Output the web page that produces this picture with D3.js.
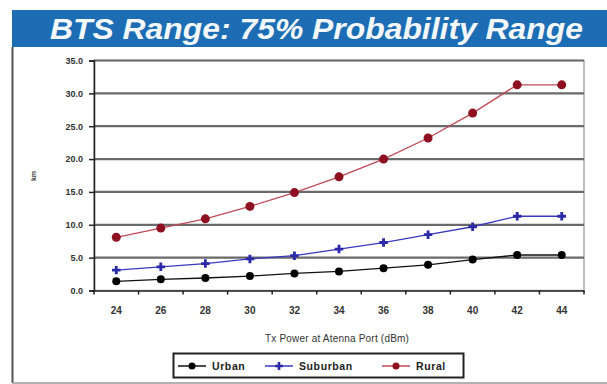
<!DOCTYPE html>
<html><head><meta charset="utf-8">
<script src="https://cdn.jsdelivr.net/npm/d3@7"></script>
<style>body{margin:0;background:#fff;}svg{display:block;}</style>
</head><body>
<svg id="c" width="607" height="384"></svg>
<script>
const categories = ["24","26","28","30","32","34","36","38","40","42","44"];
const urban    = [1.4,1.7,1.9,2.2,2.6,2.9,3.4,3.9,4.7,5.4,5.4];
const suburban = [3.1,3.6,4.1,4.8,5.3,6.3,7.3,8.5,9.7,11.3,11.3];
const rural    = [8.1,9.5,10.9,12.8,14.9,17.3,20.0,23.2,27.0,31.3,31.3];
const yTicks = [0,5,10,15,20,25,30,35];
const seriesNames = ["Urban","Suburban","Rural"];
const lineColors = ["#111111","#3a3ac0","#c04a55"];
const markColors = ["#000000","#2a2aa8","#8e1020"];
const title = "BTS Range: 75% Probability Range";
const xTitle = "Tx Power at Atenna Port (dBm)";
const yTitle = "km";

const svg = d3.select("#c");
const font = "'Liberation Sans', Arial, sans-serif";

// banner
svg.append("rect").attr("x",12).attr("y",10).attr("width",595).attr("height",37).attr("fill","#1c6db3");
svg.append("text").attr("x",50).attr("y",39)
  .attr("font-family",font).attr("font-weight","bold").attr("font-style","italic")
  .attr("font-size",30).attr("fill","#f4f8fc")
  .attr("textLength",533).attr("lengthAdjust","spacingAndGlyphs").text(title);

// outer border
svg.append("line").attr("x1",12.5).attr("x2",12.5).attr("y1",47).attr("y2",383).attr("stroke","#555").attr("stroke-width",2);
svg.append("line").attr("x1",12).attr("x2",607).attr("y1",383).attr("y2",383).attr("stroke","#999").attr("stroke-width",1.5);

const L=94, R=584, T=60.5, B=290.5;
const x = d3.scaleBand().domain(categories).range([L,R]);
const y = d3.scaleLinear().domain([0,35]).range([B,T]);

svg.append("rect").attr("x",L).attr("y",T).attr("width",R-L).attr("height",B-T)
  .attr("fill","none").attr("stroke","#aaa").attr("stroke-width",1.5);

// gridlines
svg.append("g").selectAll("line").data(yTicks.filter(d=>d>0)).join("line")
  .attr("x1",L).attr("x2",R).attr("y1",d=>y(d)).attr("y2",d=>y(d))
  .attr("stroke","#6a6a6a").attr("stroke-width",2.2);

// y axis
const ya = svg.append("g").attr("transform",`translate(${L},0)`)
  .call(d3.axisLeft(y).tickValues(yTicks).tickFormat(d3.format(".1f")).tickSize(5).tickPadding(6));
ya.select(".domain").attr("stroke","#222").attr("stroke-width",1.5);
ya.selectAll(".tick line").attr("stroke","#222").attr("stroke-width",1.5);
ya.selectAll("text").attr("font-family",font).attr("font-weight","bold").attr("font-size",9).attr("fill","#333");

// x axis
const xa = svg.append("g").attr("transform",`translate(0,${B})`)
  .call(d3.axisBottom(x).tickSize(0).tickPadding(16));
xa.select(".domain").attr("stroke","#222").attr("stroke-width",1.5);
xa.selectAll("text").attr("font-family",font).attr("font-weight","bold").attr("font-size",10).attr("fill","#333");
svg.append("g").selectAll("line").data(categories.concat(["end"])).join("line")
  .attr("x1",(d,i)=>L+i*x.step()).attr("x2",(d,i)=>L+i*x.step())
  .attr("y1",B).attr("y2",B+4).attr("stroke","#222").attr("stroke-width",1.5);

// axis titles
svg.append("text").attr("x",L+(R-L)/2-2).attr("y",342).attr("text-anchor","middle")
  .attr("font-family",font).attr("font-size",10).attr("fill","#333").attr("letter-spacing",0.2).text(xTitle);
svg.append("text").attr("transform","translate(36,176) rotate(-90)").attr("text-anchor","middle")
  .attr("font-family",font).attr("font-weight","bold").attr("font-size",7).attr("fill","#444").text(yTitle);

// series
const data = [urban, suburban, rural];
const line = d3.line().x((d,i)=>x(categories[i])+x.bandwidth()/2).y(d=>y(d));
data.forEach((s,k)=>{
  svg.append("path").datum(s).attr("d",line).attr("fill","none").attr("stroke",lineColors[k]).attr("stroke-width",1.3);
  const g = svg.append("g");
  if(k===1){
    g.selectAll("path").data(s).join("path")
      .attr("transform",(d,i)=>`translate(${x(categories[i])+x.bandwidth()/2},${y(d)})`)
      .attr("d",d3.symbol(d3.symbolCross,40)()).attr("fill",markColors[k]);
  } else {
    g.selectAll("circle").data(s).join("circle")
      .attr("cx",(d,i)=>x(categories[i])+x.bandwidth()/2).attr("cy",d=>y(d))
      .attr("r",k===2?4.5:4).attr("fill",markColors[k]);
  }
});

// legend
svg.append("rect").attr("x",173.5).attr("y",353.5).attr("width",290).attr("height",24)
  .attr("fill","#fff").attr("stroke","#222").attr("stroke-width",2);
const legX = [178, 265, 382];
seriesNames.forEach((n,k)=>{
  const g = svg.append("g").attr("transform",`translate(${legX[k]},366)`);
  g.append("line").attr("x1",0).attr("x2",28).attr("stroke",lineColors[k]).attr("stroke-width",1.5);
  if(k===1) g.append("path").attr("transform","translate(14,0)").attr("d",d3.symbol(d3.symbolCross,34)()).attr("fill",markColors[k]);
  else g.append("circle").attr("cx",14).attr("r",3.5).attr("fill",markColors[k]);
  g.append("text").attr("x",34).attr("y",4).attr("font-family",font).attr("font-weight","bold")
    .attr("font-size",10.5).attr("fill","#222").attr("letter-spacing",0.6).text(n);
});
</script>
</body></html>
